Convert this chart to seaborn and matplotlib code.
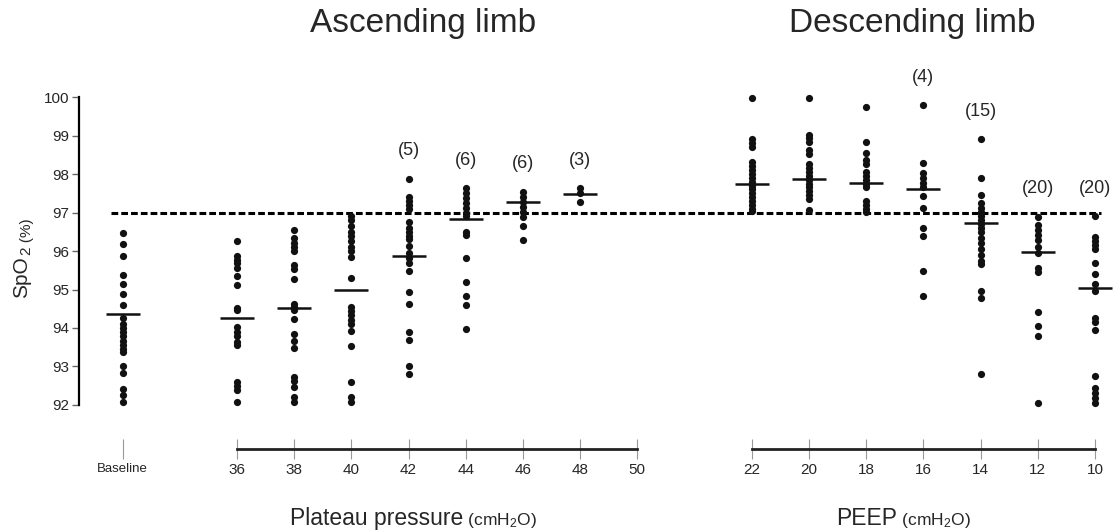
import numpy as np
import pandas as pd
import matplotlib
matplotlib.use("Agg")
import matplotlib.pyplot as plt
import seaborn as sns

# -------------------------------------------------------------------
# data (SpO2 %)
# -------------------------------------------------------------------
baseline = [96.48, 96.17, 95.88, 95.38, 95.14, 94.88, 94.60, 94.25, 94.1, 94.0, 93.9,
            93.8, 93.65, 93.55, 93.45, 93.38, 93.01, 92.82, 92.41, 92.26, 92.09]
p36 = [96.26, 95.88, 95.77, 95.68, 95.55, 95.36, 95.12, 94.53, 94.47, 94.02, 93.89,
       93.78, 93.64, 93.56, 92.61, 92.49, 92.39, 92.09]
p38 = [96.55, 96.33, 96.22, 96.11, 96.0, 95.64, 95.52, 95.27, 94.62, 94.54, 94.47,
       94.23, 93.84, 93.66, 93.49, 92.74, 92.62, 92.48, 92.22, 92.09]
p40 = [96.9, 96.8, 96.65, 96.5, 96.4, 96.25, 96.1, 96.0, 95.85, 95.31, 94.55, 94.45,
       94.35, 94.2, 94.1, 93.93, 93.53, 92.59, 92.22, 92.07]
p42 = [97.88, 97.41, 97.31, 97.19, 97.09, 96.75, 96.6, 96.5, 96.4, 96.3, 96.13, 95.94,
       95.81, 95.70, 95.48, 94.94, 94.62, 93.89, 93.68, 93.01, 92.81]
p44 = [97.63, 97.5, 97.37, 97.24, 97.11, 96.98, 96.9, 96.5, 96.42, 95.81, 95.2, 94.84,
       94.6, 93.97]
p46 = [97.54, 97.41, 97.28, 97.15, 97.02, 96.89, 96.66, 96.29]
p48 = [97.63, 97.5, 97.26]
e22 = [99.97, 98.9, 98.8, 98.71, 98.32, 98.2, 98.1, 98.0, 97.9, 97.8, 97.7, 97.6, 97.5,
       97.4, 97.3, 97.2, 97.1, 97.03]
e20 = [99.97, 99.01, 98.93, 98.84, 98.62, 98.52, 98.25, 98.15, 98.05, 97.95, 97.85,
       97.75, 97.65, 97.55, 97.45, 97.35, 97.06]
e18 = [99.75, 98.84, 98.54, 98.36, 98.26, 98.05, 97.95, 97.85, 97.75, 97.65, 97.3,
       97.2, 97.1, 97.02]
e16 = [99.79, 98.29, 98.02, 97.89, 97.76, 97.65, 97.43, 97.11, 96.59, 96.4, 95.49, 94.83]
e14 = [98.9, 97.89, 97.45, 97.25, 97.13, 97.02, 96.91, 96.81, 96.7, 96.6, 96.5, 96.35,
       96.2, 96.05, 95.9, 95.75, 95.65, 94.97, 94.79, 92.81]
e12 = [96.89, 96.68, 96.55, 96.42, 96.28, 96.11, 95.94, 95.55, 95.46, 94.42, 94.06,
       93.79, 92.06]
e10 = [96.91, 96.37, 96.27, 96.16, 96.05, 95.68, 95.4, 95.14, 94.97, 94.25, 94.16,
       93.95, 92.75, 92.43, 92.3, 92.17, 92.04]

plateau_labels = ["36", "38", "40", "42", "44", "46", "48", "50"]
peep_labels = ["22", "20", "18", "16", "14", "12", "10"]

mean_groups = ["Baseline", "36", "38", "40", "42", "44", "46", "48",
               "22", "20", "18", "16", "14", "12", "10"]
means = [94.37, 94.25, 94.51, 95.0, 95.88, 96.83, 97.26, 97.48,
         97.75, 97.87, 97.76, 97.6, 96.74, 95.98, 95.05]

count_groups = ["42", "44", "46", "48", "16", "14", "12", "10"]
count_labels = ["(5)", "(6)", "(6)", "(3)", "(4)", "(15)", "(20)", "(20)"]

groups = {"Baseline": baseline, "36": p36, "38": p38, "40": p40, "42": p42,
          "44": p44, "46": p46, "48": p48, "22": e22, "20": e20, "18": e18,
          "16": e16, "14": e14, "12": e12, "10": e10}

# category order with empty slots between the blocks
order = ["Baseline", "gap1"] + plateau_labels + ["gap2"] + peep_labels


def main():
    sns.set_style("white")
    plt.rcParams['font.family'] = ['Liberation Sans', 'DejaVu Sans']
    plt.rcParams['mathtext.fontset'] = 'custom'
    plt.rcParams['mathtext.rm'] = 'Liberation Sans'
    plt.rcParams['mathtext.it'] = 'Liberation Sans:italic'
    plt.rcParams['mathtext.default'] = 'rm'

    df = pd.DataFrame([(k, v) for k, vals in groups.items() for v in vals],
                      columns=["cond", "spo2"])
    mean_df = pd.DataFrame({"cond": mean_groups, "spo2": means})

    fig = plt.figure(figsize=(11.2, 5.31), dpi=100)
    ax = fig.add_axes([0.0705, 0.2373, 0.925, 0.580])

    sns.stripplot(data=df, x="cond", y="spo2", order=order, jitter=False,
                  color="#111111", size=5.2, linewidth=0, ax=ax)
    for c in ax.collections:
        c.set_clip_on(False)
    sns.pointplot(data=mean_df, x="cond", y="spo2", order=order, errorbar=None,
                  markers="_", linestyles="none", color="#111111",
                  markersize=24, markeredgewidth=1.8, ax=ax)

    # 97 % reference line
    ax.hlines(97, order.index("Baseline") - 0.2, order.index("10") + 0.1,
              colors="black", linestyles=(0, (2.2, 1.0)), linewidth=2.2)

    ax.set_ylim(92, 100)
    ax.set_xlim(-0.762, 17.35)
    ax.set_yticks(range(92, 101))
    ax.tick_params(axis='y', left=True, direction='out', length=5, width=1.0,
                   color='#666666', labelsize=11, pad=2)
    ax.tick_params(axis='x', bottom=False, labelbottom=False)
    ax.set_xlabel("")
    ax.set_ylabel("")
    for s in ["top", "right", "bottom"]:
        ax.spines[s].set_visible(False)
    ax.spines["left"].set_linewidth(1.6)
    ax.spines["left"].set_color("black")

    # counts above columns
    for g, lab in zip(count_groups, count_labels):
        ax.annotate(lab, xy=(order.index(g), max(groups[g])), xytext=(0, 20),
                    textcoords='offset points', ha='center', va='center',
                    fontsize=13, annotation_clip=False)

    # two bottom axes
    for labs, first, last in [(["Baseline"] + plateau_labels, "36", "50"),
                              (peep_labels, "22", "10")]:
        sec = ax.secondary_xaxis('bottom')
        sec.spines['bottom'].set_position(('outward', 32))
        sec.set_ticks([order.index(c) for c in labs], labels=labs)
        sec.spines['bottom'].set_bounds(order.index(first), order.index(last))
        sec.spines['bottom'].set_linewidth(2.0)
        sec.spines['bottom'].set_color('#222222')
        sec.tick_params(bottom=True, direction='inout', length=14, width=0.8,
                        color='#999999', labelsize=11, pad=3)
        for t in sec.get_xticklabels():
            if t.get_text() == "Baseline":
                t.set_fontsize(9.5)

    # y label
    t1 = ax.text(-0.055, 0.347, "SpO", transform=ax.transAxes, rotation=90,
                 ha='center', va='bottom', fontsize=15)
    ax.annotate("2 (%)", xy=(1, 1), xycoords=t1, xytext=(1.5, 1),
                textcoords='offset points', rotation=90, ha='right', va='bottom',
                fontsize=11)

    # x labels
    for x0, main_txt in [(290 / 1120, "Plateau pressure"), (836 / 1120, "PEEP")]:
        tx = fig.text(x0, 0.0113, main_txt, ha='left', va='baseline', fontsize=16.5)
        ax.annotate(r" (cmH$_2$O)", xy=(1, 0), xycoords=tx, ha='left', va='bottom',
                    fontsize=12.5)

    # titles
    fig.text(423 / 1120, 0.940, "Ascending limb", ha='center', va='baseline', fontsize=24)
    fig.text(912 / 1120, 0.940, "Descending limb", ha='center', va='baseline', fontsize=24)

    plt.savefig("out.png", dpi=100)


if __name__ == '__main__':
    main()
